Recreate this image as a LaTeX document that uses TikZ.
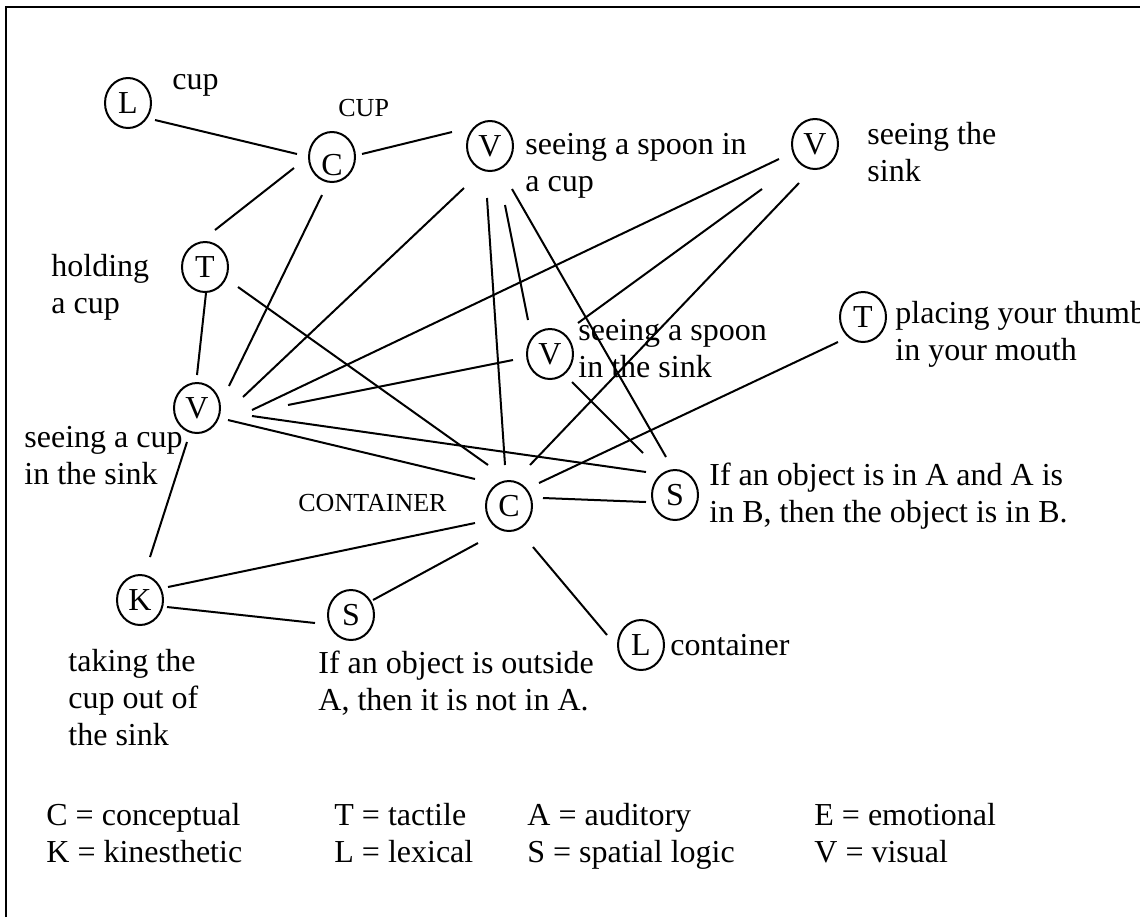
\documentclass[tikz,border=0pt]{standalone}
\usepackage{fontspec}
\setmainfont{Liberation Serif}
\usetikzlibrary{shapes.geometric,calc}
\tikzset{
  unit/.style={draw, ellipse, line width=1pt, minimum width=23pt, minimum height=25pt, inner sep=0pt, font=\fontsize{16}{18.5}\selectfont},
  lk/.style={line width=1pt},
  txt/.style={anchor=north west, inner sep=0pt, align=left, yshift=12.95pt, font=\fontsize{16}{18.5}\selectfont},
  one/.style={anchor=base west, inner sep=0pt, font=\fontsize{16}{18.5}\selectfont},
  small/.style={anchor=base west, inner sep=0pt, font=\fontsize{13}{15}\selectfont},
}
\begin{document}
\begin{tikzpicture}[x=0.5pt,y=-0.5pt]
\useasboundingbox (0,0) rectangle (1140,917);
\fill[white] (0,0) rectangle (1140,917);
\draw[line width=1pt] (6,917) -- (6,7) -- (1140,7);
% units
\node[unit] (L1) at (128,103) {L};
\node[unit] (C1) at (332,157) {\raisebox{-4pt}[\height][\depth]{C}};
\node[unit] (T1) at (205,267) {T};
\node[unit] (Vcup) at (490,146) {V};
\node[unit] (Vsink) at (815,144) {V};
\node[unit] (Vss) at (550,354) {V};
\node[unit] (T2) at (863,317) {T};
\node[unit] (Vcs) at (197,408) {V};
\node[unit] (C2) at (509,506) {C};
\node[unit] (S2) at (675,495) {S};
\node[unit] (K) at (140,600) {K};
\node[unit] (S1) at (351,615) {S};
\node[unit] (L2) at (641,645) {L};
% labels
\node[one] (tcup) at (172,89) {cup};
\node[small] (tCUP) at (338,116) {CUP};
\node[txt] (tvcup) at (525,154) {\strut seeing a spoon in\\a cup};
\node[txt] (tvsink) at (867,144) {\strut seeing the\\sink};
\node[txt] (thold) at (51,276) {\strut holding\\a cup};
\node[txt] (tvss) at (578,340) {\strut seeing a spoon\\in the sink};
\node[txt] (tthumb) at (895,323) {\strut placing your thumb\\in your mouth};
\node[txt] (tvcs) at (24,447) {\strut seeing a cup\\in the sink};
\node[small] (tCONT) at (298,511) {CONTAINER};
\node[txt] (ts2) at (709,485) {\strut If an object is in A and A is\\in B, then the object is in B.};
\node[txt] (tk) at (68,671) {\strut taking the\\cup out of\\the sink};
\node[txt] (ts1) at (318,673) {\strut If an object is outside\\A, then it is not in A.};
\node[one] (tl2) at (670,655) {container};
% legend
\node[txt] (lg1) at (46,825) {\strut C = conceptual\\K = kinesthetic};
\node[txt] (lg2) at (334,825) {\strut T = tactile\\L = lexical};
\node[txt] (lg3) at (527,825) {\strut A = auditory\\S = spatial logic};
\node[txt] (lg4) at (814,825) {\strut E = emotional\\V = visual};
% links
\draw[lk] ($(L1)+(27,17)$) -- ($(C1)+(-35,-3)$);
\draw[lk] ($(C1)+(30,-3)$) -- ($(Vcup)+(-38,-14)$);
\draw[lk] ($(C1)+(-38,11)$) -- ($(T1)+(10,-37)$);
\draw[lk] ($(C1)+(-10,38)$) -- ($(Vcs)+(32,-22)$);
\draw[lk] ($(T1)+(1,26)$) -- ($(Vcs)+(0,-33)$);
\draw[lk] ($(T1)+(33,20)$) -- ($(C2)+(-21,-41)$);
\draw[lk] ($(Vcup)+(-26,42)$) -- ($(Vcs)+(46,-11)$);
\draw[lk] ($(Vcup)+(-3,52)$) -- ($(C2)+(-4,-41)$);
\draw[lk] ($(Vcup)+(15,59)$) -- ($(Vss)+(-22,-34)$);
\draw[lk] ($(Vcup)+(22,43)$) -- ($(S2)+(-9,-38)$);
\draw[lk] ($(Vsink)+(-36,15)$) -- ($(Vcs)+(55,2)$);
\draw[lk] ($(Vsink)+(-53,45)$) -- ($(Vss)+(28,-31)$);
\draw[lk] ($(Vsink)+(-16,39)$) -- ($(C2)+(21,-41)$);
\draw[lk] ($(T2)+(-25,25)$) -- ($(C2)+(30,-23)$);
\draw[lk] ($(C2)+(34,-8)$) -- ($(S2)+(-29,7)$);
\draw[lk] ($(C2)+(-34,17)$) -- ($(K)+(28,-13)$);
\draw[lk] ($(C2)+(-31,37)$) -- ($(S1)+(22,-15)$);
\draw[lk] ($(C2)+(24,41)$) -- ($(L2)+(-34,-10)$);
\draw[lk] ($(K)+(27,7)$) -- ($(S1)+(-36,8)$);
\draw[lk] ($(Vcs)+(-10,34)$) -- ($(K)+(10,-43)$);
\draw[lk] ($(Vss)+(-37,6)$) -- ($(Vcs)+(91,-3)$);
\draw[lk] ($(Vss)+(22,28)$) -- ($(S2)+(-32,-42)$);
\draw[lk] ($(Vcs)+(31,12)$) -- ($(C2)+(-34,-27)$);
\draw[lk] ($(Vcs)+(55,8)$) -- ($(S2)+(-29,-23)$);
\end{tikzpicture}
\end{document}
